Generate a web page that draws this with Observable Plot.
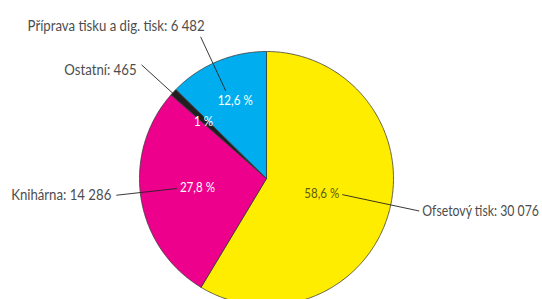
<!DOCTYPE html>
<html><head><meta charset="utf-8">
<script src="https://cdn.jsdelivr.net/npm/d3@7"></script>
<script src="https://cdn.jsdelivr.net/npm/@observablehq/plot@0.6"></script>
<style>
html,body{margin:0;padding:0;background:#fff;}
svg{display:block;}
</style></head>
<body><div id="chart"></div>
<script>
// Data
const names = ["Ofsetový tisk", "Knihárna", "Ostatní", "Příprava tisku a dig. tisk"];
const values = [30076, 14286, 465, 6482];
const valueLabels = ["30 076", "14 286", "465", "6 482"];
const percentLabels = ["58,6 %", "27,8 %", "1 %", "12,6 %"];
const colors = ["#FFED00", "#EC008C", "#231F20", "#00AEEF"];
const pctColors = ["#5e5a10", "#ffffff", "#ffffff", "#ffffff"];

// Layout (radius factors, angle offsets in degrees, pixel offsets)
const leaderInner = [0.61, 0.71, 0.99, 0.76];
const leaderOuter = [1.23, 1.19, 1.33, 1.23];
const leaderAngleOff = [-3.5, 2.5, -0.6, -2.2];
const outerAnchor = ["start", "end", "end", "end"];
const outerDx = [3, -5, -5, 4];
const outerDy = [0, 0, 5, -11];
const outerCondense = [0.82, 0.88, 0.88, 0.88];
const pctRadius = [0.61, 0.71, 0.67, 0.66];
const pctAngleOff = [-3.5, 2.5, -0.6, 0.8];
const pctAnchor = ["end", "start", "middle", "middle"];
const pctDx = [-3, 3, 0, 0];
const pctDy = [-1, -1, 0, 0];
const pctCondense = 0.86;

const W = 542, H = 299, CX = 266, CY = 178, R = 127;
const rad = d => d * Math.PI / 180;

const arcs = d3.pie().sort(null).startAngle(0).endAngle(2 * Math.PI)(values);
const slices = [];
arcs.forEach((a, i) => {
  slices.push({name: names[i], x: 0, y: 0});
  const n = Math.max(2, Math.ceil((a.endAngle - a.startAngle) / 0.01));
  for (let k = 0; k <= n; k++) {
    const t = a.startAngle + (a.endAngle - a.startAngle) * k / n;
    slices.push({name: names[i], x: Math.sin(t), y: Math.cos(t)});
  }
  slices.push({name: names[i], x: 0, y: 0});
});
const mids = arcs.map(a => (a.startAngle + a.endAngle) / 2);
const pol = (i, r, off) => ({x: r * Math.sin(mids[i] + rad(off)), y: r * Math.cos(mids[i] + rad(off))});

const leaders = names.map((n, i) => {
  const p = pol(i, leaderInner[i], leaderAngleOff[i]);
  const q = pol(i, leaderOuter[i], leaderAngleOff[i]);
  return {i, x1: p.x, y1: p.y, x2: q.x, y2: q.y};
});
const outerText = names.map((n, i) => ({i, ...pol(i, leaderOuter[i], leaderAngleOff[i]), text: `${n}: ${valueLabels[i]}`}));
const pctText = names.map((n, i) => ({i, ...pol(i, pctRadius[i], pctAngleOff[i]), text: percentLabels[i]}));

const condenseByText = new Map();
outerText.forEach((d, i) => condenseByText.set(d.text, outerCondense[i]));
pctText.forEach(d => condenseByText.set(d.text, pctCondense));

const font = "Lato, 'Open Sans', sans-serif";
const marks = [
  Plot.line(slices, {x: "x", y: "y", z: "name", fill: "name", stroke: "#3a3a3a", strokeWidth: 0.8, curve: "linear"}),
  Plot.link(leaders, {x1: "x1", y1: "y1", x2: "x2", y2: "y2", stroke: "#222", strokeWidth: 0.9})
];
names.forEach((n, i) => {
  marks.push(Plot.text([outerText[i]], {x: "x", y: "y", text: "text", textAnchor: outerAnchor[i], dx: outerDx[i], dy: outerDy[i], fill: "#4d4d4d", fontSize: 15, fontFamily: font}));
  marks.push(Plot.text([pctText[i]], {x: "x", y: "y", text: "text", textAnchor: pctAnchor[i], dx: pctDx[i], dy: pctDy[i], fill: pctColors[i], fontSize: 13.5, fontFamily: font}));
});

const chart = Plot.plot({
  width: W, height: H, margin: 0,
  x: {domain: [-CX / R, (W - CX) / R], axis: null},
  y: {domain: [-(H - CY) / R, CY / R], axis: null},
  color: {domain: names, range: colors},
  style: {background: "#fff", overflow: "hidden"},
  marks
});
// emulate the condensed typeface of the original
d3.select(chart).selectAll("text").each(function() {
  const s = condenseByText.get(this.textContent);
  if (s == null) return;
  const t = this.getAttribute("transform") || "";
  this.setAttribute("transform", `${t} scale(${s},1)`);
});
document.getElementById("chart").appendChild(chart);
</script></body></html>
